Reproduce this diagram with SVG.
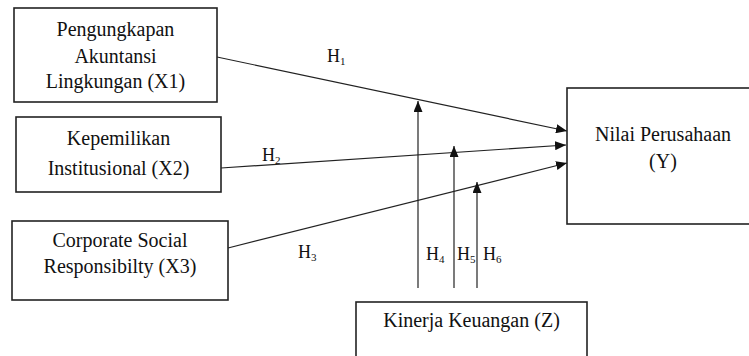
<svg xmlns="http://www.w3.org/2000/svg" width="749" height="356" viewBox="0 0 749 356">
<style>
.box{fill:#fff;stroke:#222;stroke-width:1.6}
.t{font-family:"Liberation Serif","Times New Roman",serif;font-size:20px;fill:#111;text-anchor:middle}
.h{font-family:"Liberation Serif","Times New Roman",serif;font-size:18px;fill:#111}
.s{font-size:11px}
.ln{stroke:#222;stroke-width:1.2;fill:none;marker-end:url(#ah)}
</style>
<defs>
<marker id="ah" markerUnits="userSpaceOnUse" markerWidth="11" markerHeight="9" refX="11" refY="4.5" orient="auto">
<path d="M0,0 L11,4.5 L0,9 z" fill="#111"/>
</marker>
</defs>
<rect width="749" height="356" fill="#fff"/>
<g id="connectors">
<line class="ln" x1="217" y1="57" x2="567" y2="131"/>
<line class="ln" x1="221" y1="168" x2="566" y2="145"/>
<line class="ln" x1="228" y1="248" x2="567" y2="163"/>
<line class="ln" x1="418" y1="288" x2="418" y2="101"/>
<line class="ln" x1="454" y1="288" x2="454" y2="146"/>
<line class="ln" x1="477" y1="288" x2="477" y2="182"/>
<text class="h" x="327" y="62">H<tspan class="s" dy="3">1</tspan></text>
<text class="h" x="262" y="161">H<tspan class="s" dy="3">2</tspan></text>
<text class="h" x="298" y="258">H<tspan class="s" dy="3">3</tspan></text>
<text class="h" x="426" y="260">H<tspan class="s" dy="3">4</tspan></text>
<text class="h" x="457" y="260">H<tspan class="s" dy="3">5</tspan></text>
<text class="h" x="483" y="260">H<tspan class="s" dy="3">6</tspan></text>
</g>
<g id="x1">
<rect class="box" x="14" y="8" width="203" height="94"/>
<text class="t" x="115.5" y="36">Pengungkapan</text>
<text class="t" x="115.5" y="63">Akuntansi</text>
<text class="t" x="115.5" y="88">Lingkungan (X1)</text>
</g>
<g id="x2">
<rect class="box" x="16" y="117" width="205" height="75"/>
<text class="t" x="118.5" y="145">Kepemilikan</text>
<text class="t" x="118.5" y="175">Institusional (X2)</text>
</g>
<g id="x3">
<rect class="box" x="12" y="221" width="216" height="79"/>
<text class="t" x="120" y="247">Corporate Social</text>
<text class="t" x="120" y="273">Responsibilty (X3)</text>
</g>
<g id="y">
<rect class="box" x="567" y="88" width="195" height="136"/>
<text class="t" x="663" y="141">Nilai Perusahaan</text>
<text class="t" x="663" y="168">(Y)</text>
</g>
<g id="z">
<rect class="box" x="356" y="302" width="231" height="70"/>
<text class="t" x="471.5" y="327">Kinerja Keuangan (Z)</text>
</g>
</svg>
